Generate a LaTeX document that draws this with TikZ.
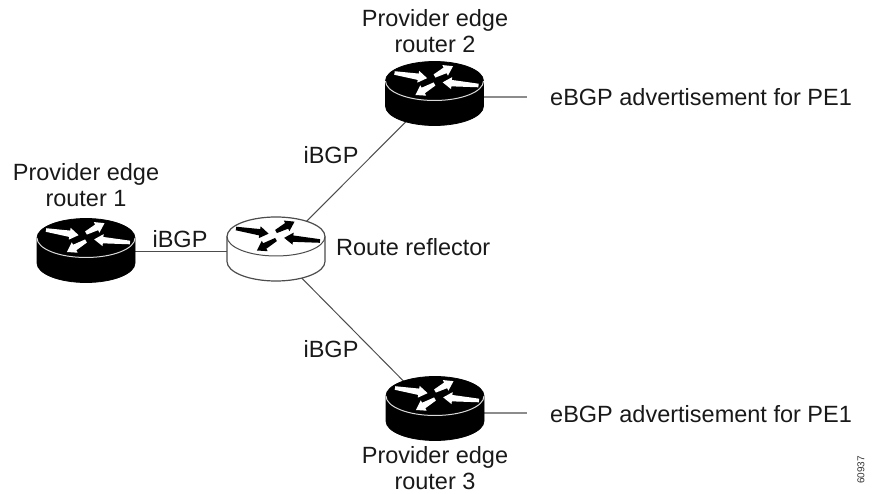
\documentclass[tikz,border=0pt]{standalone}
\usepackage{fontspec}
\setmainfont{Liberation Sans}
\tikzset{
  lbl/.style={font=\fontsize{23.5pt}{26pt}\selectfont, text=black!90, align=center, inner sep=0pt},
  wire/.style={draw=black!70, line width=1pt},
  stub/.style={draw=black!45, line width=2.2pt},
  hub/.style={minimum width=98pt, minimum height=64pt, inner sep=0pt, draw=none},
  darkbody/.style={fill=black, draw=black, line width=0.8pt},
  lightbody/.style={fill=white, draw=black!70, line width=1.2pt},
}
% #1 x, #2 y of the top ellipse, #3 body style, #4 rim colour, #5 arrow colour
\newcommand{\routerart}[5]{%
  \begin{scope}[shift={(#1,#2)}]
    \path[#3] (-49,0) -- (-49,-25) arc[start angle=180,end angle=360,x radius=49,y radius=19.5]
       -- (49,0) arc[start angle=0,end angle=180,x radius=49,y radius=19.5] -- cycle;
    \draw[#4,line width=1pt] (-49,0) arc[start angle=180,end angle=360,x radius=49,y radius=19.5];
    \foreach \tx/\ty/\rot/\len in {-40/8/-9/33, 0/5/28/21, 44/-4.5/175/36, 0/-3/210/22}{
      \fill[#5,shift={(\tx,\ty)},rotate=\rot]
        (0,-1.8) -- (\len-9,-3.2) -- (\len-9,-6) -- (\len,0) -- (\len-9,6) -- (\len-9,3.2) -- (0,1.8) -- cycle;
    }
  \end{scope}}
\begin{document}
\begin{tikzpicture}[x=1pt,y=1pt]
\useasboundingbox (0,0) rectangle (873,-494);
\node[hub] (r1) at (86,-252) {};
\node[hub] (rr) at (276,-252) {};
\node[hub] (r2) at (434.5,-93) {};
\node[hub] (r3) at (435,-413) {};
\coordinate (e2) at (527,-97);
\coordinate (e3) at (527,-413);
\draw[wire] (r1.center) -- (rr.center);
\draw[wire] (rr.center) -- (r2.center);
\draw[wire] (rr.center) -- (r3.center);
\draw[stub] (r2.center |- e2) -- (e2);
\draw[stub] (r3.center |- e3) -- (e3);
\routerart{86}{-238}{darkbody}{black!15}{white}
\routerart{276}{-236.5}{lightbody}{black!70}{black}
\routerart{434.5}{-81}{darkbody}{black!15}{white}
\routerart{435}{-396}{darkbody}{black!15}{white}
\node[lbl] (t1) at (86,-185) {Provider edge\\[0pt]router 1};
\node[lbl] (t2) at (435,-31) {Provider edge\\[0pt]router 2};
\node[lbl] (t3) at (435,-468) {Provider edge\\[0pt]router 3};
\node[lbl] (i1) at (180,-239) {iBGP};
\node[lbl] (i2) at (331,-155) {iBGP};
\node[lbl] (i3) at (331,-349) {iBGP};
\node[lbl,anchor=west] (rl) at (336,-247) {Route reflector};
\node[lbl,anchor=west] (a2) at (550,-97) {eBGP advertisement for PE1};
\node[lbl,anchor=west] (a3) at (550,-414) {eBGP advertisement for PE1};
\node[font=\fontsize{10pt}{10pt}\selectfont,text=black!80,rotate=90,inner sep=0pt] (id) at (861,-470) {60937};
\end{tikzpicture}
\end{document}
